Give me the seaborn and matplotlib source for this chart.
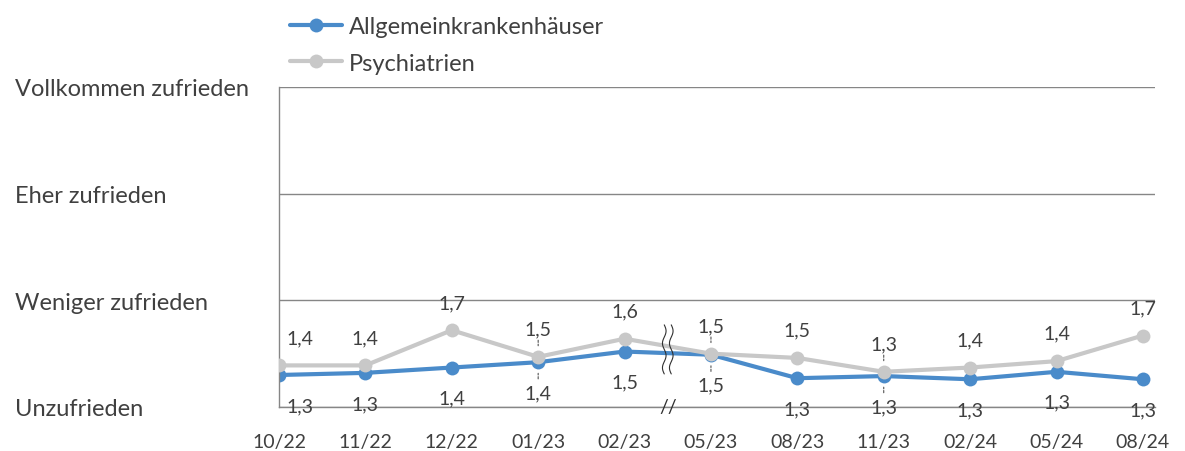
import numpy as np
import pandas as pd
import matplotlib
matplotlib.use("Agg")
import matplotlib.pyplot as plt
import seaborn as sns

# survey waves (x axis) and mean satisfaction scores (1 = Unzufrieden ... 4 = Vollkommen zufrieden)
waves = ["10/22", "11/22", "12/22", "01/23", "02/23", "05/23",
         "08/23", "11/23", "02/24", "05/24", "08/24"]
allgemein = [1.30, 1.32, 1.37, 1.42, 1.52, 1.49, 1.27, 1.29, 1.26, 1.33, 1.26]
psychiatrie = [1.39, 1.39, 1.72, 1.47, 1.64, 1.50, 1.46, 1.33, 1.37, 1.43, 1.67]
series_names = ["Allgemeinkrankenhäuser", "Psychiatrien"]
scale_labels = ["Unzufrieden", "Weniger zufrieden", "Eher zufrieden", "Vollkommen zufrieden"]
scale_values = [1, 2, 3, 4]

BLUE = "#4a8bca"
GREY = "#c8c8c8"
TEXT = "#404040"
AXIS = "#868686"

df = pd.DataFrame({
    "welle": waves * 2,
    "wert": allgemein + psychiatrie,
    "gruppe": [series_names[0]] * len(waves) + [series_names[1]] * len(waves),
})

sns.set_theme(style="white")
plt.rcParams["font.family"] = ["Lato", "DejaVu Sans"]

fig = plt.figure(figsize=(11.85, 4.52), dpi=100)
ax = fig.add_axes([279 / 1185, 1 - 408 / 452, (1155 - 279) / 1185, (408 - 88) / 452])

sns.lineplot(data=df, x="welle", y="wert", hue="gruppe", hue_order=series_names,
             palette=[BLUE, GREY], marker="o", markersize=10, markeredgewidth=0,
             linewidth=3, sort=False, ax=ax, legend=True)
# grey line sits on top in the reference
ax.lines[1].set_zorder(3)
ax.lines[0].set_zorder(2)

ax.set_xlim(0, 10.14)
ax.set_ylim(1, 4)
ax.set_yticks(scale_values)
ax.set_yticklabels(scale_labels, ha="left")
ax.tick_params(axis="y", length=6, color=AXIS, pad=184, labelsize=17, labelcolor=TEXT)
ax.tick_params(axis="x", length=0, pad=19, labelsize=14, labelcolor=TEXT)
ax.set_xlabel("")
ax.set_ylabel("")
ax.grid(axis="y", color=AXIS, linewidth=1)
ax.spines["top"].set_visible(False)
ax.spines["right"].set_visible(False)
for side in ["left", "bottom"]:
    ax.spines[side].set_color(AXIS)
    ax.spines[side].set_linewidth(1)

# data labels: grey above, blue below (first pair nudged right off the axis)
leader = {3, 5, 7}
for i, (g, b) in enumerate(zip(psychiatrie, allgemein)):
    dx = 15 if i == 0 else 0
    ax.annotate(f"{g:.1f}".replace(".", ","), (i, g), xytext=(dx, 20), textcoords="offset points",
                ha="center", va="center", fontsize=14, color=TEXT)
    ax.annotate(f"{b:.1f}".replace(".", ","), (i, b), xytext=(dx, -22), textcoords="offset points",
                ha="center", va="center", fontsize=14, color=TEXT)
    if i in leader:
        for v, off in ((g, 12), (b, -12)):
            ax.annotate("", (i, v), xytext=(0, off), textcoords="offset points",
                        arrowprops=dict(arrowstyle="-", shrinkA=0, shrinkB=8, lw=0.8,
                                        color="#505050", linestyle=(0, (2, 1.5))))

# axis break between 02/23 and 05/23
t = np.linspace(0, 1, 60)
for off in (-3.5, 3.5):
    wx = 4.5 + (off + 1.8 * np.sin(t * 4 * np.pi)) / 86.4
    wy = 1.77 - t * 0.46
    ax.plot(wx, wy, color="#303030", linewidth=0.8, zorder=5, clip_on=False)
ax.text(4.5, 1, "//", ha="center", va="center", fontsize=14, color="#303030", zorder=5)

ax.get_legend().remove()
handles, labels = ax.get_legend_handles_labels()
fig.legend(handles, labels, loc="upper left", bbox_to_anchor=(269 / 1185, 1 + 4 / 452),
           frameon=False, fontsize=17, handlelength=2.2, handletextpad=0.3,
           labelspacing=0.65, labelcolor=TEXT)

fig.savefig("out.png", dpi=100)
